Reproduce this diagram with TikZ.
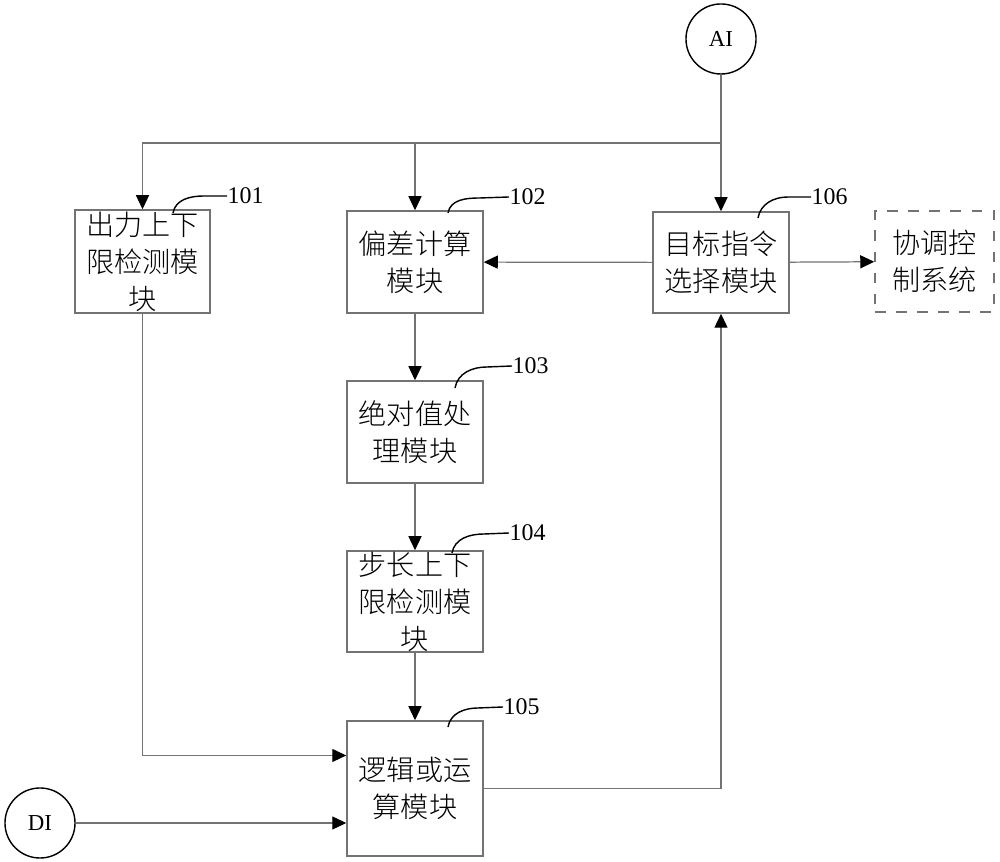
\documentclass[tikz,border=0pt]{standalone}
\usepackage{fontspec}
\setmainfont{Liberation Serif}
\newfontfamily\cjk{Noto Sans CJK SC Light}
\usetikzlibrary{arrows.meta,positioning,calc}

\tikzset{
  blk/.style={draw=black!55, line width=0.4pt, rectangle, minimum width=1.36cm, minimum height=1.02cm, inner sep=0pt, align=center, font=\cjk\fontsize{8}{10.5}\selectfont},
  io/.style={draw, circle, line width=0.4pt, minimum size=0.7cm, inner sep=0pt, font=\fontsize{6.5}{7}\selectfont},
  line/.style={draw=black!55, line width=0.35pt},
  arr/.style={line, -{Triangle[black,length=0.14cm,width=0.13cm]}},
  num/.style={font=\fontsize{6.8}{7}\selectfont, inner sep=0pt, anchor=west},
  lead/.style={draw=black, line width=0.4pt}
}

\begin{document}
\begin{tikzpicture}[x=0.01cm, y=-0.01cm]
\useasboundingbox (0,0) rectangle (1000,862);

% inputs
\node[io] (AI) at (721,39) {AI};
\node[io] (DI) at (40,823) {DI};

% modules
\node[blk, minimum width=1.35cm, minimum height=1.03cm] (m101) at (142.5,261.5) {出力上下\\限检测模\\块};
\node[blk] (m102) at (415,262) {偏差计算\\模块};
\node[blk, minimum height=1.01cm] (m106) at (721,262.5) {目标指令\\选择模块};
\node[blk, dashed, minimum width=1.19cm, minimum height=1.01cm] (sys) at (934.5,261.5) {协调控\\制系统};
\node[blk] (m103) at (415,432) {绝对值处\\理模块};
\node[blk, minimum height=1.01cm] (m104) at (415,601.5) {步长上下\\限检测模\\块};
\node[blk, minimum height=1.35cm] (m105) at (415,788.5) {逻辑或运\\算模块};

% reference numbers
\node[num] (n101) at (227,196) {101};
\node[num] (n102) at (509,197) {102};
\node[num] (n106) at (811,197) {106};
\node[num] (n103) at (512,366) {103};
\node[num] (n104) at (509,533) {104};
\node[num] (n105) at (503,707) {105};
\draw[lead] (173,213) to[out=80, in=180] (204,196) -- (n101.west);
\draw[lead] (448,213) to[out=80, in=180] (480,198) -- (n102.west);
\draw[lead] (758,218) to[out=80, in=180] (788,197) -- (n106.west);
\draw[lead] (455,388) to[out=80, in=180] (487,367) -- (n103.west);
\draw[lead] (452,553) to[out=80, in=180] (484,534) -- (n104.west);
\draw[lead] (448,727) to[out=80, in=180] (478,708) -- (n105.west);

% connections
\coordinate (bus) at (0,143);
\draw[arr] (AI) -- (m106);
\draw[arr] (AI |- bus) -| (m101);
\draw[arr] (m102 |- bus) -- (m102);
\draw[arr] (m106) -- (m102);
\draw[arr] (m106) -- (sys);
\draw[arr] (m102) -- (m103);
\draw[arr] (m103) -- (m104);
\draw[arr] (m104) -- (m105);
\draw[arr] (m101) |- ([yshift=0.33cm]m105.west);
\draw[arr] (DI) -- (DI -| m105.west);
\draw[arr] (m105) -| (m106);
\end{tikzpicture}
\end{document}
